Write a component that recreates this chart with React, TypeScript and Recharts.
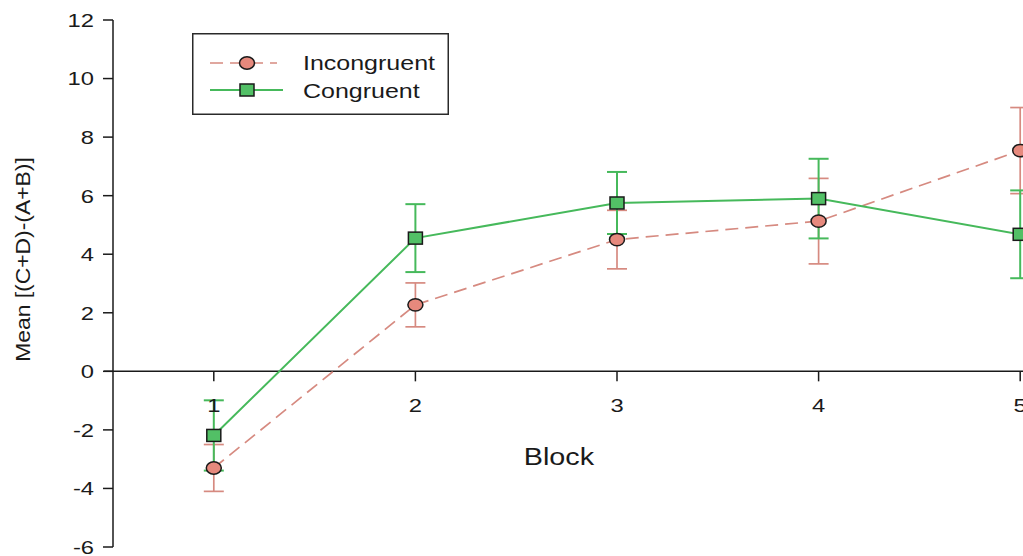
import {
  ComposedChart,
  Line,
  XAxis,
  YAxis,
  ErrorBar,
  ReferenceLine,
  ReferenceDot,
  Label,
} from 'recharts';

const blocks = [1, 2, 3, 4, 5];
const incongruentMean = [-3.3, 2.27, 4.5, 5.13, 7.54];
const incongruentErr = [0.8, 0.75, 1.0, 1.46, 1.47];
const congruentMean = [-2.19, 4.55, 5.75, 5.9, 4.68];
const congruentErr = [1.2, 1.16, 1.06, 1.36, 1.5];
const yTicks = [-6, -4, -2, 0, 2, 4, 6, 8, 10, 12];

const SALMON_LINE = '#d68a80';
const SALMON_FILL = '#e6897d';
const GREEN_LINE = '#46b95b';
const GREEN_FILL = '#52c066';
const INK = '#1a1a1a';
const FONT = '"Liberation Sans", Arial, sans-serif';
// the printed figure is a little wider than tall, so text is stretched sideways
const STRETCH = 1.25;

const data = blocks.map((b, i) => ({
  block: b,
  incongruent: incongruentMean[i],
  incongruentErr: incongruentErr[i],
  congruent: congruentMean[i],
  congruentErr: congruentErr[i],
}));

const CircleDot = (props: any) => {
  const { cx, cy } = props;
  if (cx == null || cy == null) return null;
  return <ellipse cx={cx} cy={cy} rx={7.5} ry={6.2} fill={SALMON_FILL} stroke={INK} strokeWidth={1.5} />;
};

const SquareDot = (props: any) => {
  const { cx, cy } = props;
  if (cx == null || cy == null) return null;
  return <rect x={cx - 7} y={cy - 6} width={14} height={12} fill={GREEN_FILL} stroke={INK} strokeWidth={1.5} />;
};

const YTick = ({ x, y, payload }: any) => (
  <text
    transform={`translate(${x},${y}) scale(${STRETCH},1)`}
    textAnchor="end"
    dy="0.36em"
    fontSize={19}
    fontFamily={FONT}
    fill={INK}
  >
    {payload.value}
  </text>
);

const YLabel = ({ viewBox }: any) => {
  const x = viewBox.x + 23;
  const y = viewBox.y + viewBox.height / 2 - 24;
  return (
    <text
      transform={`translate(${x},${y}) rotate(-90) scale(1.09,1)`}
      textAnchor="middle"
      dy="0.35em"
      fontSize={21}
      fontFamily={FONT}
      fill={INK}
    >
      Mean [(C+D)-(A+B)]
    </text>
  );
};

// tick mark and number hanging below the zero line
const BlockTick = ({ cx, cy, label }: any) => (
  <g>
    <line x1={cx} y1={cy} x2={cx} y2={cy + 10} stroke={INK} strokeWidth={1.5} />
    <text
      transform={`translate(${cx},${cy + 41}) scale(${STRETCH},1)`}
      textAnchor="middle"
      fontSize={19}
      fontFamily={FONT}
      fill={INK}
    >
      {label}
    </text>
  </g>
);

const BlockTitle = ({ viewBox }: any) => (
  <text
    transform={`translate(${viewBox.x + 455},${viewBox.y + 94}) scale(${STRETCH},1)`}
    textAnchor="middle"
    fontSize={23}
    fontFamily={FONT}
    fill={INK}
  >
    Block
  </text>
);

const LegendBox = () => (
  <svg
    width={257}
    height={82}
    style={{ position: 'absolute', left: 192, top: 33, fontFamily: FONT }}
  >
    <rect x={0.75} y={0.75} width={255.5} height={80.5} fill="white" stroke="#2a2a2a" strokeWidth={1.5} />
    <line x1={18} y1={30} x2={85} y2={30} stroke={SALMON_LINE} strokeWidth={1.6} strokeDasharray="13 7" />
    <CircleDot cx={55} cy={30} />
    <text transform={`translate(111,37) scale(${STRETCH},1)`} fontSize={20} fill={INK}>
      Incongruent
    </text>
    <line x1={18} y1={57} x2={91} y2={57} stroke={GREEN_LINE} strokeWidth={2} />
    <SquareDot cx={55} cy={57} />
    <text transform={`translate(111,65) scale(${STRETCH},1)`} fontSize={20} fill={INK}>
      Congruent
    </text>
  </svg>
);

export default function App() {
  return (
    <div
      style={{
        position: 'absolute',
        left: 0,
        top: 0,
        width: 1023,
        height: 556,
        overflow: 'hidden',
        background: 'white',
      }}
    >
      <ComposedChart
        width={1140}
        height={556}
        data={data}
        margin={{ top: 20, right: 19, bottom: 9, left: 0 }}
      >
        <XAxis dataKey="block" type="number" domain={[0.5, 5.5]} hide />
        <YAxis
          type="number"
          domain={[-6, 12]}
          ticks={yTicks}
          width={113}
          axisLine={{ stroke: INK, strokeWidth: 1.5 }}
          tickLine={{ stroke: INK, strokeWidth: 1.5 }}
          tickSize={10}
          tickMargin={9}
          tick={<YTick />}
          label={<Label content={<YLabel />} />}
        />
        <ReferenceLine
          segment={[
            { x: 0.455, y: 0 },
            { x: 5.5, y: 0 },
          ]}
          ifOverflow="visible"
          stroke={INK}
          strokeWidth={1.5}
          label={<Label content={<BlockTitle />} />}
        />
        {blocks.map((b) => (
          <ReferenceDot
            key={b}
            x={b}
            y={0}
            r={0}
            shape={(p: any) => <BlockTick {...p} label={b} />}
          />
        ))}
        <Line
          dataKey="incongruent"
          stroke={SALMON_LINE}
          strokeWidth={1.7}
          strokeDasharray="13 7"
          dot={<CircleDot />}
          activeDot={false}
          isAnimationActive={false}
        >
          <ErrorBar dataKey="incongruentErr" direction="y" width={10} stroke={SALMON_LINE} strokeWidth={1.7} />
        </Line>
        <Line
          dataKey="congruent"
          stroke={GREEN_LINE}
          strokeWidth={2}
          dot={<SquareDot />}
          activeDot={false}
          isAnimationActive={false}
        >
          <ErrorBar dataKey="congruentErr" direction="y" width={10} stroke={GREEN_LINE} strokeWidth={2} />
        </Line>
      </ComposedChart>
      <LegendBox />
    </div>
  );
}
